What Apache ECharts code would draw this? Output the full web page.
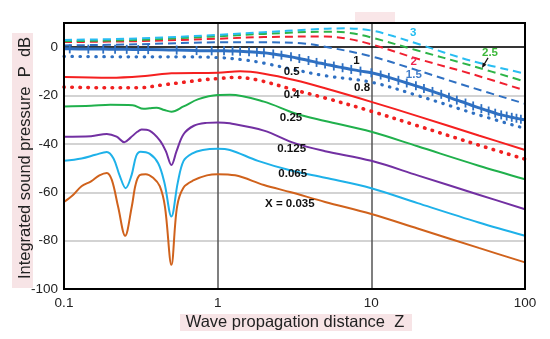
<!DOCTYPE html>
<html><head><meta charset="utf-8">
<script src="https://cdn.jsdelivr.net/npm/echarts@6/dist/echarts.min.js"></script>
<style>html,body{margin:0;padding:0;background:#fff}#c{width:550px;height:339px}</style>
</head><body><div id="c"></div>
<script>
// ---- data (Z, dB) ----
const xTicks = [0.1, 1, 10, 100];
const yTicks = [-100, -80, -60, -40, -20, 0];

const s035 = [[0.1,-64],[0.115,-61],[0.13,-57.5],[0.15,-55.5],[0.17,-53],[0.19,-52],[0.205,-55],[0.225,-66],[0.25,-78],[0.276,-66],[0.292,-57],[0.31,-53],[0.34,-52.5],[0.38,-54],[0.42,-57.5],[0.454,-66],[0.5,-90],[0.544,-66],[0.6,-58],[0.7,-55],[0.85,-53],[1,-52.5],[1.3,-53],[2,-57],[3,-60],[5,-64],[10,-69],[20,-75],[50,-83],[100,-89]];
const s065 = [[0.1,-47],[0.13,-46],[0.16,-44.5],[0.19,-43.3],[0.21,-46],[0.23,-53],[0.252,-58.3],[0.275,-53],[0.295,-45],[0.315,-43.2],[0.36,-44],[0.41,-48],[0.45,-56],[0.5,-70],[0.55,-56],[0.6,-47],[0.68,-44],[0.8,-42.5],[1,-42],[1.2,-42.5],[1.83,-47],[3,-51],[5,-54],[10,-58.3],[20,-64.5],[50,-72.5],[100,-78]];
const s125 = [[0.1,-37],[0.15,-36.8],[0.19,-35.9],[0.22,-37],[0.247,-39.3],[0.27,-37.5],[0.3,-35],[0.32,-34],[0.36,-34.5],[0.42,-38.5],[0.46,-43],[0.5,-48.7],[0.54,-43],[0.6,-36],[0.7,-32.5],[0.85,-31.3],[1,-31.1],[1.2,-31.5],[2,-34.5],[3.2,-39.8],[5,-43],[10,-47],[20,-53],[50,-61],[100,-67]];
const s25 = [[0.1,-24.5],[0.15,-24.2],[0.2,-23.8],[0.28,-24],[0.33,-25.5],[0.36,-25.3],[0.4,-25],[0.45,-26],[0.5,-26.7],[0.6,-24.5],[0.75,-21.5],[1,-19.8],[1.2,-19.7],[2,-22.5],[3.2,-27.4],[5,-30.5],[10,-35],[20,-41],[50,-49],[100,-54.6]];
const s04 = [[0.1,-16.5],[0.2,-16.8],[0.3,-16.8],[0.45,-15.5],[0.6,-14.5],[0.8,-13.5],[1,-13],[1.3,-12.5],[1.8,-13.5],[3.2,-17.8],[5,-21],[10,-26.5],[20,-32.5],[50,-40.5],[100,-46.3]];
const s05 = [[0.1,-12.3],[0.2,-12.6],[0.35,-11.8],[0.5,-10.8],[1,-10.6],[1.4,-10],[2,-11],[3.2,-13.7],[5,-17],[10,-22.6],[20,-28.5],[50,-36.5],[100,-42.5]];
const s08 = [[0.1,-3.8],[0.3,-4],[0.6,-4],[1,-4.3],[1.5,-5.3],[2,-6.6],[3,-9],[5,-11.8],[10,-14.5],[20,-20],[50,-28],[100,-33.6]];
const s1 = [[0.1,-0.7],[0.109,-0.7],[0.144,-0.8],[0.18,-0.8],[0.215,-0.9],[0.256,-0.9],[0.304,-1],[0.353,-1],[0.541,-1.2],[0.729,-1.4],[0.914,-1.5],[1.1,-1.5],[1.25,-1.6],[1.4,-1.7],[1.6,-1.9],[1.8,-2.1],[2.0,-2.3],[2.3,-2.8],[2.6,-3.3],[3.0,-4],[3.4,-4.7],[3.9,-5.5],[4.4,-6.3],[5,-7],[5.7,-7.8],[6.5,-8.5],[7.4,-9.2],[8.5,-9.9],[10,-10.6],[11.5,-11.5],[13,-12.5],[15,-13.7],[17,-14.8],[19.5,-16],[22,-17.1],[25,-18.3],[28.5,-19.5],[32,-20.7],[36,-21.9],[41,-23.1],[46,-24.3],[52,-25.4],[58,-26.4],[64,-27.3],[70,-28],[76,-28.5],[82,-29],[88,-29.4],[94,-29.8],[100,-30]];
const s15 = [[0.1,0.7],[0.3,1.2],[1,2],[2,2],[3.5,1.6],[5,0.2],[10,-3.8],[20,-9.6],[44,-16.5],[100,-23.4]];
const s2 = [[0.1,2.1],[0.3,2.5],[1,3.5],[2,4.2],[5,4.4],[7,3.5],[10,1.2],[20,-4.8],[44,-10.9],[100,-17.9]];
const s25d = [[0.1,2.5],[0.3,3],[1,4.5],[2,5.5],[5,6.4],[7,6],[10,4],[20,-1.4],[44,-7.5],[100,-14.2]];
const s3 = [[0.1,3.0],[0.3,3.6],[1,5.1],[2,6.2],[4,7.3],[6.7,7.8],[10,6.9],[14,4.5],[20,1.4],[44,-5.5],[100,-10.9]];

// curve annotations: text, Z, dB, colour
const curveLabels = [
  ['1', 8.0, -5.5, '#111'], ['0.8', 8.7, -16.7, '#111'], ['0.5', 3.03, -10, '#111'],
  ['0.4', 3.03, -19.9, '#111'], ['0.25', 3.0, -29.2, '#111'], ['0.125', 3.03, -42.2, '#111'],
  ['0.065', 3.08, -52.4, '#111'], ['X = 0.035', 2.95, -64.7, '#111'],
  ['3', 18.7, 6.0, '#22bdf0'], ['2', 18.9, -6.2, '#ee2450'], ['1.5', 18.9, -11.6, '#3f7cc8'],
  ['2.5', 59.2, -2.3, '#3cb83a']
];

const FONT = 'Liberation Sans, Arial, sans-serif';
const BLUE = '#2f70c2';
function line(data, color, opts) {
  return Object.assign({
    type: 'line', data: data, smooth: 0.35, showSymbol: false, symbol: 'none',
    lineStyle: {color: color, width: 2}, itemStyle: {color: color}, z: 3, silent: true
  }, opts || {});
}
const dot = (c, w, g) => ({color: c, width: w, type: [0.5, g], cap: 'round'});
const dash = (c) => ({color: c, width: 2, type: [8, 5]});

const series = [
  line(s035, '#d0621c'),
  line(s065, '#1eb1e9'),
  line(s125, '#7230a2'),
  line(s25, '#20b04c'),
  line(s04, '#f02020', {lineStyle: dot('#f02020', 3.6, 7.5)}),
  line(s05, '#f52020'),
  line(s08, BLUE, {lineStyle: dot(BLUE, 3.2, 7.5)}),
  line(s15, BLUE, {lineStyle: dash(BLUE)}),
  line(s2, '#f02030', {lineStyle: dash('#f02030')}),
  line(s25d, '#2db448', {lineStyle: dash('#2db448')}),
  line(s3, '#28bdf2', {lineStyle: dash('#28bdf2')}),
  line(s1, BLUE, {lineStyle: {color: BLUE, width: 3}, showSymbol: true, symbol: 'rect', symbolSize: [1.8, 9], z: 4,
    markLine: {silent: true, symbol: 'none', label: {show: false}, lineStyle: {color: '#000', width: 1.6, type: 'solid'}, data: [{yAxis: 0}], z: 1}})
];

const chart = echarts.init(document.getElementById('c'), null, {renderer: 'canvas'});
chart.setOption({
  animation: false,
  backgroundColor: '#fff',
  grid: {left: 64, right: 25, top: 23, bottom: 50, show: true, borderColor: '#000', borderWidth: 2, backgroundColor: 'transparent', z: 5},
  xAxis: {
    type: 'log', logBase: 10, min: xTicks[0], max: xTicks[xTicks.length - 1],
    axisLine: {show: false}, axisTick: {show: false}, minorTick: {show: false},
    splitLine: {show: true, lineStyle: {color: '#555', width: 1.5}},
    axisLabel: {color: '#222', fontSize: 13.5, fontFamily: FONT, margin: 7, formatter: v => String(v)}
  },
  yAxis: {
    type: 'value', min: yTicks[0], max: 10, interval: 20,
    axisLine: {show: false}, axisTick: {show: false},
    splitLine: {show: true, lineStyle: {color: '#c4c4c4', width: 1.5}},
    axisLabel: {color: '#222', fontSize: 13.5, fontFamily: FONT, margin: 6,
      formatter: v => (yTicks.indexOf(v) >= 0 ? String(v) : '')}
  },
  series: series
});

const g = [
  {type: 'rect', shape: {x: 12, y: 33, width: 21, height: 255}, style: {fill: '#f7e4e6'}, z: 0},
  {type: 'text', x: 25, y: 158, rotation: Math.PI / 2,
    style: {text: 'Integrated sound pressure  P  dB', fill: '#222', font: '16.5px ' + FONT, align: 'center', verticalAlign: 'middle'}, z: 10},
  {type: 'rect', shape: {x: 180, y: 314, width: 232, height: 17}, style: {fill: '#f7e4e6'}, z: 0},
  {type: 'text', x: 295, y: 322, style: {text: 'Wave propagation distance  Z', fill: '#222', font: '16.5px ' + FONT, align: 'center', verticalAlign: 'middle'}, z: 10},
  {type: 'rect', shape: {x: 355, y: 12, width: 40, height: 10}, style: {fill: '#f9e6e8'}, z: 0}
];
curveLabels.forEach(l => {
  const p = chart.convertToPixel({gridIndex: 0}, [l[1], l[2]]);
  g.push({type: 'text', x: p[0], y: p[1], z: 20,
    style: {text: l[0], fill: l[3], font: 'bold 11.5px ' + FONT, align: 'center', verticalAlign: 'middle'}});
});
// arrow from "2.5" label to its curve
const a0 = chart.convertToPixel({gridIndex: 0}, [57.5, -4.4]);
const a1 = chart.convertToPixel({gridIndex: 0}, [52.5, -8.6]);
const dx = a1[0] - a0[0], dy = a1[1] - a0[1], len = Math.hypot(dx, dy);
const ux = dx / len, uy = dy / len, px = -uy, py = ux;
g.push({type: 'line', shape: {x1: a0[0], y1: a0[1], x2: a1[0] - ux * 3, y2: a1[1] - uy * 3}, style: {stroke: '#111', lineWidth: 1.2}, z: 20});
g.push({type: 'polygon', shape: {points: [[a1[0], a1[1]],
  [a1[0] - ux * 5 + px * 2.2, a1[1] - uy * 5 + py * 2.2],
  [a1[0] - ux * 5 - px * 2.2, a1[1] - uy * 5 - py * 2.2]]}, style: {fill: '#111'}, z: 20});
chart.setOption({graphic: g});
</script></body></html>
